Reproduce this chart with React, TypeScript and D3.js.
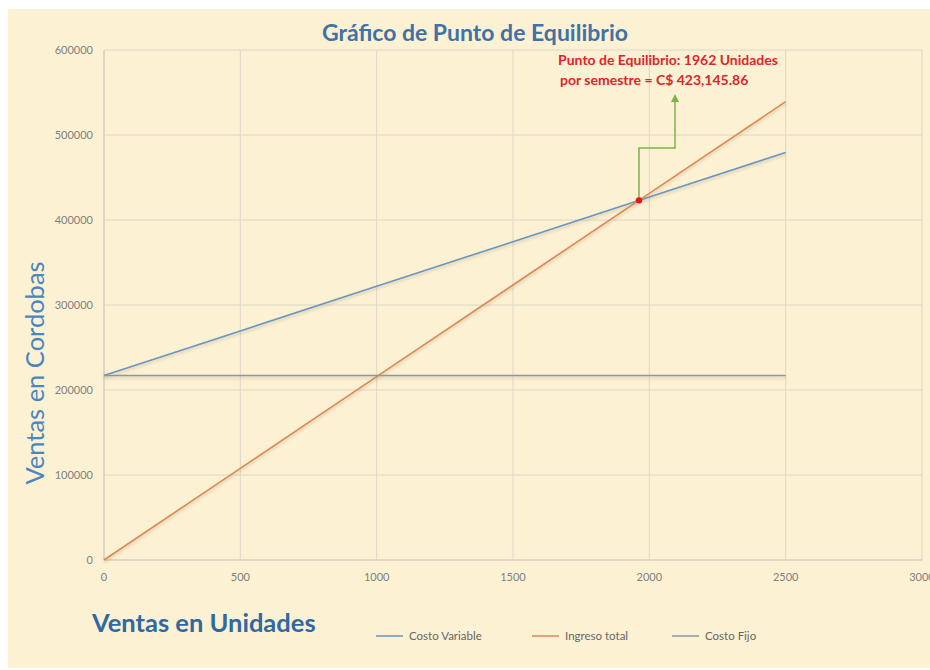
import React from "react";
import * as d3 from "d3";

const units = [0, 500, 1000, 1500, 2000, 2500];
const costoVariable = [217000, 269500, 322000, 374500, 427000, 479500];
const ingresoTotal = [0, 107835, 215670, 323505, 431340, 539175];
const costoFijo = [217000, 217000, 217000, 217000, 217000, 217000];
const xTicks = [0, 500, 1000, 1500, 2000, 2500, 3000];
const yTicks = [0, 100000, 200000, 300000, 400000, 500000, 600000];
const equilibrio = { unidades: 1962, monto: 423145.86 };
const seriesNames = ["Costo Variable", "Ingreso total", "Costo Fijo"];

const W = 930;
const H = 670;
const L = 104, R = 922, T = 50, B = 560;

export default function App() {
  const x = d3.scaleLinear().domain([0, 3000]).range([L, R]);
  const y = d3.scaleLinear().domain([0, 600000]).range([B, T]);
  const line = d3
    .line<[number, number]>()
    .x((d) => x(d[0]))
    .y((d) => y(d[1]));
  const series = [
    { name: seriesNames[0], values: costoVariable, color: "#6995c0" },
    { name: seriesNames[1], values: ingresoTotal, color: "#dc8a55" },
    { name: seriesNames[2], values: costoFijo, color: "#8798a8" },
  ];
  const font = "Lato, 'Open Sans', sans-serif";
  const px = x(equilibrio.unidades);
  const py = y(equilibrio.monto);
  const legendX = [376, 532, 672];
  return (
    <svg
      width={W}
      height={H}
      style={{ position: "fixed", left: 0, top: 0 }}
      fontFamily={font}
    >
      <defs>
        <filter id="sh" filterUnits="userSpaceOnUse" x={0} y={0} width={W} height={H}>
          <feDropShadow dx="0" dy="2" stdDeviation="1.5" floodColor="#8a7a50" floodOpacity="0.35" />
        </filter>
      </defs>
      <rect x={0} y={0} width={W} height={H} fill="#ffffff" />
      <rect x={8} y={9} width={W - 8} height={659} fill="#fdf1d4" />
      {/* grid */}
      {yTicks.map((t) => (
        <line key={"gy" + t} x1={L} x2={R} y1={y(t)} y2={y(t)} stroke="#dcd6c6" strokeWidth={1} />
      ))}
      {xTicks.map((t) => (
        <line key={"gx" + t} x1={x(t)} x2={x(t)} y1={T} y2={B} stroke="#dcd6c6" strokeWidth={1} />
      ))}
      <line x1={L} x2={L} y1={T} y2={B} stroke="#d0cab9" />
      <line x1={L} x2={R} y1={B} y2={B} stroke="#d0cab9" />
      {/* tick labels */}
      {yTicks.map((t) => (
        <text key={"ty" + t} x={93} y={y(t) + 4} textAnchor="end" fontSize={11} fill="#7f7f7f">
          {String(t)}
        </text>
      ))}
      {xTicks.map((t) => (
        <text key={"tx" + t} x={x(t)} y={581} textAnchor="middle" fontSize={11} fill="#7f7f7f">
          {String(t)}
        </text>
      ))}
      {/* series */}
      {series.map((s) => (
        <path
          key={s.name}
          d={line(units.map((u, i) => [u, s.values[i]] as [number, number])) || ""}
          fill="none"
          stroke={s.color}
          strokeWidth={1.6}
          filter="url(#sh)"
        />
      ))}
      {/* annotation */}
      <path
        d={`M${px},${py} V148 H675 V100`}
        fill="none"
        stroke="#7cb24a"
        strokeWidth={1.5}
      />
      <path d="M671,102 L675,94 L679,102 Z" fill="#7cb24a" />
      <circle cx={px} cy={py} r={3.2} fill="#e8141c" />
      <text x={668} y={65} textAnchor="middle" fontSize={14} fontWeight="bold" fill="#e0242b">
        Punto de Equilibrio: 1962 Unidades
      </text>
      <text x={560} y={85} fontSize={14} fontWeight="bold" fill="#e0242b">
        por semestre = C$ 423,145.86
      </text>
      {/* titles */}
      <text x={475} y={41} textAnchor="middle" fontSize={23} fontWeight="bold" fill="#3f72a6">
        Gráfico de Punto de Equilibrio
      </text>
      <text
        transform="translate(44,373) rotate(-90)"
        textAnchor="middle"
        fontSize={25.5}
        fill="#4a86c0"
      >
        Ventas en Cordobas
      </text>
      <text x={92} y={632} fontSize={25.5} fontWeight="bold" fill="#3068a2">
        Ventas en Unidades
      </text>
      {/* legend */}
      {series.map((s, i) => (
        <g key={"lg" + s.name}>
          <line x1={legendX[i]} x2={legendX[i] + 27} y1={636} y2={636} stroke={s.color} strokeWidth={1.5} />
          <text x={legendX[i] + 33} y={640} fontSize={11.5} fill="#666">
            {s.name}
          </text>
        </g>
      ))}
    </svg>
  );
}
